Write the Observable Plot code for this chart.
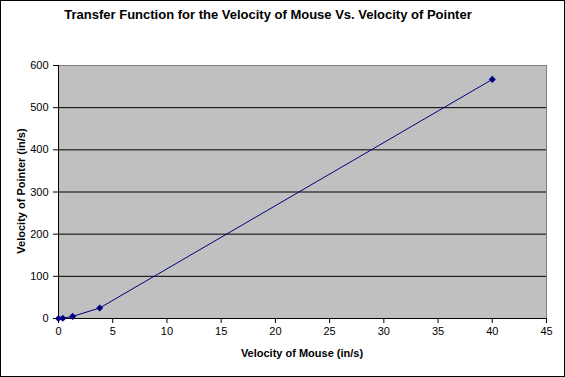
<!DOCTYPE html>
<html>
<head>
<meta charset="utf-8">
<script src="https://cdn.jsdelivr.net/npm/d3@7"></script>
<script src="https://cdn.jsdelivr.net/npm/@observablehq/plot@0.6"></script>
<style>
  html, body { margin: 0; padding: 0; background: #fff; }
  #wrap { position: relative; width: 565px; height: 377px; box-sizing: border-box; overflow: hidden; }
  #border { position: absolute; left: 0; top: 0; width: 565px; height: 377px; box-sizing: border-box; border: 1px solid #000; pointer-events: none; }
  .t { position: absolute; font-family: "Liberation Sans", Arial, sans-serif; font-weight: bold; color: #000; white-space: nowrap; }
  #title { left: 0; width: 536px; top: 7px; text-align: center; font-size: 13px; }
  #xlabel { left: 58px; width: 488px; top: 347px; text-align: center; font-size: 11px; }
  #ylabel { left: 21px; top: 191px; font-size: 11px; transform: translate(-50%, -50%) rotate(-90deg); }
  svg { position: absolute; left: 0; top: 0; }
</style>
</head>
<body>
<div id="wrap">
  <div id="chart"></div>
  <div class="t" id="title">Transfer Function for the Velocity of Mouse Vs. Velocity of Pointer</div>
  <div class="t" id="xlabel">Velocity of Mouse (in/s)</div>
  <div class="t" id="ylabel">Velocity of Pointer (in/s)</div>
  <div id="border"></div>
</div>
<script>
const mouseVelocity = [0, 0.4, 1.3, 3.8, 40];
const pointerVelocity = [0, 0.5, 5, 25, 567];
const xTicks = [0, 5, 10, 15, 20, 25, 30, 35, 40, 45];
const yTicks = [0, 100, 200, 300, 400, 500, 600];
const gridLines = [100, 200, 300, 400, 500];

const data = mouseVelocity.map((x, i) => ({x, y: pointerVelocity[i]}));

const chart = Plot.plot({
  width: 565,
  height: 377,
  marginLeft: 58,
  marginRight: 19,
  marginTop: 65,
  marginBottom: 59,
  style: { fontFamily: "Liberation Sans, Arial, sans-serif", fontSize: "11px", color: "#000", background: "transparent" },
  x: { domain: [0, 45] },
  y: { domain: [0, 600] },
  marks: [
    Plot.frame({ fill: "#c0c0c0", stroke: "#808080" }),
    Plot.ruleY(gridLines, { stroke: "#000", strokeWidth: 1 }),
    Plot.ruleX([0], { stroke: "#000" }),
    Plot.ruleY([0], { stroke: "#000" }),
    Plot.axisX({ ticks: xTicks, tickSize: 5, tickPadding: 4, label: null, tickFormat: d => String(d), fill: "#000", stroke: "#000" }),
    Plot.axisY({ ticks: yTicks, tickSize: 5, tickPadding: 5, label: null, tickFormat: d => String(d), fill: "#000", stroke: "#000" }),
    Plot.line(data, { x: "x", y: "y", stroke: "#000080", strokeWidth: 1 }),
    Plot.dot(data, { x: "x", y: "y", symbol: "diamond2", r: 3.2, fill: "#000080", stroke: "none" })
  ]
});
document.getElementById("chart").appendChild(chart);
</script>
</body>
</html>
